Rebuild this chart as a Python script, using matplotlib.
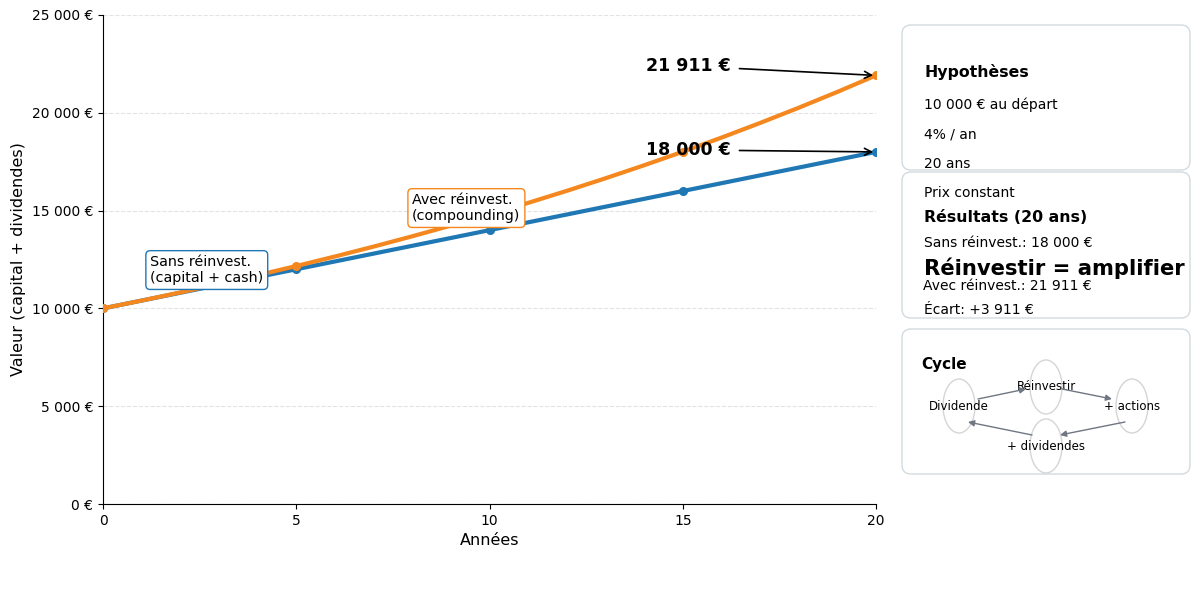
import matplotlib
matplotlib.use("Agg")
import matplotlib.pyplot as plt
from matplotlib.patches import FancyBboxPatch, Ellipse
from matplotlib.ticker import FuncFormatter

# données
annees = list(range(21))
sans_reinvest = [10000, 10400, 10800, 11200, 11600, 12000, 12400, 12800, 13200, 13600, 14000,
                 14400, 14800, 15200, 15600, 16000, 16400, 16800, 17200, 17600, 18000]
avec_reinvest = [10000, 10400, 10816, 11249, 11699, 12167, 12653, 13159, 13686, 14233, 14802,
                 15395, 16010, 16651, 17317, 18009, 18730, 19479, 20258, 21068, 21911]
annees_marqueurs = [0, 5, 10, 15, 20]
hypotheses = ["10 000 € au départ", "4% / an", "20 ans", "Prix constant"]
cycle_labels = ["Dividende", "Réinvestir", "+ actions", "+ dividendes"]

bleu = "#1f77b4"
orange = "#f5871f"

fig = plt.figure(figsize=(12, 5.96), dpi=100)
ax = fig.add_axes([103 / 1200, 92 / 596, 773 / 1200, 489 / 596])

ax.plot(annees, sans_reinvest, color=bleu, lw=3, zorder=3)
ax.plot(annees, avec_reinvest, color=orange, lw=3, zorder=4)
ax.plot(annees_marqueurs, [sans_reinvest[a] for a in annees_marqueurs], "o", color=bleu, ms=5.5, zorder=3)
ax.plot(annees_marqueurs, [avec_reinvest[a] for a in annees_marqueurs], "o", color=orange, ms=5.5, zorder=4)

ax.set_xlim(0, 20)
ax.set_ylim(0, 25000)
ax.set_xticks([0, 5, 10, 15, 20])
ax.set_yticks(range(0, 25001, 5000))
ax.yaxis.set_major_formatter(FuncFormatter(lambda v, p: f"{int(v):,} €".replace(",", " ")))
ax.tick_params(labelsize=10)
ax.grid(axis="y", ls="--", color="#e3e3e3", lw=0.8)
ax.set_axisbelow(True)
for s in ["top", "right"]:
    ax.spines[s].set_visible(False)
ax.set_xlabel("Années", fontsize=11.5)
ax.set_ylabel("Valeur (capital + dividendes)", fontsize=11.5)

ax.annotate(f"{avec_reinvest[-1]:,} €".replace(",", " "), xy=(20, avec_reinvest[-1]), xytext=(16.25, 22390),
            ha="right", va="center", fontsize=12.5, fontweight="bold",
            arrowprops=dict(arrowstyle="->", color="black", lw=1.2, shrinkA=4, shrinkB=2), zorder=6)
ax.annotate(f"{sans_reinvest[-1]:,} €".replace(",", " "), xy=(20, sans_reinvest[-1]), xytext=(16.25, 18100),
            ha="right", va="center", fontsize=12.5, fontweight="bold",
            arrowprops=dict(arrowstyle="->", color="black", lw=1.2, shrinkA=4, shrinkB=2), zorder=6)

ax.text(1.22, 11960, "Sans réinvest.\n(capital + cash)", fontsize=10.3, va="center", ha="left",
        bbox=dict(boxstyle="round,pad=0.3", fc="white", ec=bleu, lw=1), zorder=7)
ax.text(8.0, 15130, "Avec réinvest.\n(compounding)", fontsize=10.3, va="center", ha="left",
        bbox=dict(boxstyle="round,pad=0.3", fc="white", ec=orange, lw=1), zorder=7)

# panneau de droite, en pixels
ov = fig.add_axes([0, 0, 1, 1])
ov.set_xlim(0, 1200)
ov.set_ylim(596, 0)
ov.axis("off")
for y0, y1 in [(25, 170), (172, 318), (329, 474)]:
    ov.add_patch(FancyBboxPatch((902, y0), 288, y1 - y0, boxstyle="round,pad=0,rounding_size=9",
                                fc="white", ec="#d3dadf", lw=1))

ov.text(924, 72, "Hypothèses", fontsize=11.3, fontweight="bold", va="center")
for i, t in enumerate(hypotheses):
    ov.text(924, 105 + i * 29.3, t, fontsize=10, va="center")
ov.text(924, 217, "Résultats (20 ans)", fontsize=11.3, fontweight="bold", va="center")
ov.text(924, 243, f"Sans réinvest.: {sans_reinvest[-1]:,} €".replace(",", " "), fontsize=10, va="center")
ov.text(924, 268, "Réinvestir = amplifier", fontsize=15.2, fontweight="bold", va="center")
ov.text(923, 286, f"Avec réinvest.: {avec_reinvest[-1]:,} €".replace(",", " "), fontsize=10, va="center")
ov.text(924, 310, f"Écart: +{avec_reinvest[-1] - sans_reinvest[-1]:,} €".replace(",", " "), fontsize=10, va="center")

ov.text(921, 365, "Cycle", fontsize=11, fontweight="bold", va="center")
centres = [(959, 406), (1046, 387), (1132, 406), (1046, 446)]
for (cx, cy), lab in zip(centres, cycle_labels):
    ov.add_patch(Ellipse((cx, cy), 32, 54, fc="none", ec="#d5d5d5", lw=1))
    ov.text(cx, cy, lab, fontsize=8.5, ha="center", va="center")
fleches = [((978, 399), (1026, 389)), ((1062, 389), (1112, 399)),
           ((1125, 422), (1060, 435)), ((1032, 435), (968, 422))]
for a, b in fleches:
    ov.annotate("", xy=b, xytext=a, arrowprops=dict(arrowstyle="-|>", color="#6f7782", lw=1,
                                                   mutation_scale=9, shrinkA=0, shrinkB=0))

fig.savefig("out.png", dpi=100)
